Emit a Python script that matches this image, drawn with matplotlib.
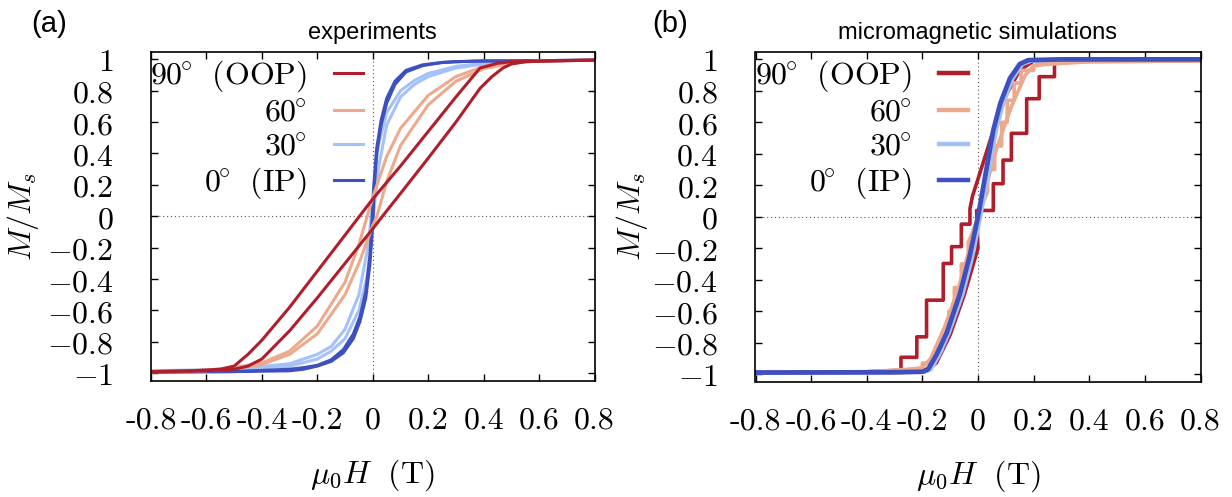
import numpy as np
import matplotlib
matplotlib.use("Agg")
from matplotlib import pyplot as plt
from matplotlib.lines import Line2D

plt.rcParams['mathtext.fontset'] = 'cm'
plt.rcParams['axes.unicode_minus'] = False

# colours for the four field angles
c90 = '#b01e2c'
c60 = '#eda98b'
c30 = '#a4c1f9'
c0 = '#3e50c0'

# ---------------- (a) experiments: descending / ascending branches ----------------
H90a_dn = [0.8, 0.6, 0.5, 0.45, 0.42, 0.387, 0.3, 0.2, 0.1, 0.0, -0.048, -0.1, -0.2, -0.3, -0.4, -0.45, -0.5, -0.55, -0.65, -0.8]
M90a_dn = [0.995, 0.99, 0.985, 0.975, 0.96, 0.945, 0.76, 0.54, 0.32, 0.11, 0.0, -0.12, -0.35, -0.58, -0.79, -0.88, -0.955, -0.975, -0.985, -0.99]
H90a_up = [-0.8, -0.6, -0.5, -0.45, -0.4, -0.3, -0.2, -0.1, 0.0, 0.035, 0.1, 0.2, 0.3, 0.387, 0.43, 0.47, 0.5, 0.55, 0.65, 0.8]
M90a_up = [-0.99, -0.985, -0.975, -0.955, -0.91, -0.73, -0.52, -0.30, -0.08, 0.0, 0.145, 0.37, 0.60, 0.815, 0.89, 0.945, 0.97, 0.985, 0.99, 0.995]

H60a_dn = [0.8, 0.6, 0.5, 0.4, 0.3, 0.2, 0.1, 0.05, 0.0, -0.02, -0.05, -0.1, -0.2, -0.3, -0.4, -0.5, -0.6, -0.8]
M60a_dn = [0.995, 0.99, 0.98, 0.955, 0.89, 0.77, 0.56, 0.38, 0.12, 0.0, -0.18, -0.42, -0.70, -0.86, -0.935, -0.965, -0.98, -0.99]
H60a_up = [-0.8, -0.6, -0.5, -0.4, -0.3, -0.2, -0.1, -0.05, 0.0, 0.015, 0.05, 0.1, 0.2, 0.3, 0.4, 0.5, 0.6, 0.8]
M60a_up = [-0.99, -0.985, -0.97, -0.945, -0.88, -0.75, -0.5, -0.3, -0.06, 0.0, 0.22, 0.45, 0.71, 0.86, 0.94, 0.975, 0.99, 0.995]

H30a_dn = [0.8, 0.5, 0.4, 0.3, 0.2, 0.15, 0.1, 0.05, 0.02, 0.005, -0.005, -0.02, -0.05, -0.1, -0.15, -0.2, -0.3, -0.5, -0.8]
M30a_dn = [0.995, 0.985, 0.975, 0.955, 0.91, 0.865, 0.80, 0.66, 0.45, 0.22, 0.0, -0.22, -0.5, -0.72, -0.83, -0.88, -0.94, -0.975, -0.985]
H30a_up = [-0.8, -0.5, -0.3, -0.2, -0.15, -0.1, -0.05, -0.02, -0.005, 0.005, 0.02, 0.05, 0.1, 0.15, 0.2, 0.3, 0.4, 0.5, 0.8]
M30a_up = [-0.99, -0.98, -0.955, -0.91, -0.86, -0.78, -0.6, -0.38, -0.15, 0.05, 0.3, 0.58, 0.76, 0.84, 0.89, 0.945, 0.97, 0.985, 0.995]

H0a_dn = [0.8, 0.5, 0.4, 0.3, 0.25, 0.18, 0.12, 0.08, 0.05, 0.03, 0.014, 0.005, -0.002, -0.01, -0.025, -0.046, -0.07, -0.106, -0.15, -0.2, -0.25, -0.3, -0.5, -0.8]
M0a_dn = [0.995, 0.99, 0.99, 0.985, 0.98, 0.965, 0.93, 0.86, 0.75, 0.61, 0.43, 0.22, 0.0, -0.25, -0.48, -0.64, -0.75, -0.85, -0.915, -0.95, -0.965, -0.975, -0.99, -0.99]
H0a_up = [-0.8, -0.5, -0.3, -0.25, -0.2, -0.15, -0.106, -0.07, -0.046, -0.025, -0.01, 0.0, 0.006, 0.014, 0.03, 0.05, 0.08, 0.12, 0.18, 0.25, 0.3, 0.4, 0.5, 0.8]
M0a_up = [-0.995, -0.99, -0.985, -0.975, -0.955, -0.925, -0.87, -0.78, -0.67, -0.52, -0.3, -0.05, 0.2, 0.4, 0.58, 0.72, 0.84, 0.92, 0.96, 0.98, 0.985, 0.99, 0.99, 0.995]

# ---------------- (b) micromagnetic simulations ----------------
H90b_dn = [0.8, 0.3, 0.2, 0.15, 0.1, 0.05, 0.0, -0.02, -0.029, -0.029, -0.06, -0.06, -0.095, -0.095, -0.125, -0.125, -0.185, -0.185, -0.22, -0.22, -0.277, -0.277, -0.4, -0.8]
M90b_dn = [1.0, 1.0, 0.99, 0.93, 0.77, 0.52, 0.24, 0.13, 0.05, -0.047, -0.047, -0.19, -0.19, -0.297, -0.297, -0.53, -0.53, -0.763, -0.763, -0.893, -0.893, -0.975, -0.985, -0.99]
H90b_up = [-0.8, -0.3, -0.2, -0.15, -0.1, -0.05, 0.0, -0.005, 0.055, 0.055, 0.09, 0.09, 0.12, 0.12, 0.175, 0.175, 0.22, 0.22, 0.275, 0.275, 0.4, 0.8]
M90b_up = [-0.99, -0.99, -0.985, -0.93, -0.75, -0.5, -0.2, 0.04, 0.04, 0.21, 0.21, 0.36, 0.36, 0.53, 0.53, 0.75, 0.75, 0.89, 0.89, 0.975, 0.99, 1.0]

H60b_up = [-0.8, -0.35, -0.25, -0.2, -0.17, -0.12, -0.07, -0.03, 0.0, 0.02, 0.035, 0.035, 0.06, 0.06, 0.085, 0.085, 0.105, 0.105, 0.13, 0.13, 0.155, 0.155, 0.2, 0.2, 0.26, 0.4, 0.8]
M60b_up = [-0.99, -0.985, -0.98, -0.96, -0.9, -0.7, -0.45, -0.2, 0.0, 0.1, 0.16, 0.3, 0.3, 0.45, 0.45, 0.6, 0.6, 0.74, 0.74, 0.85, 0.85, 0.93, 0.93, 0.96, 0.97, 0.985, 0.99]
H60b_dn = [0.8, 0.35, 0.25, 0.2, 0.17, 0.12, 0.07, 0.03, 0.0, -0.02, -0.035, -0.035, -0.06, -0.06, -0.085, -0.085, -0.105, -0.105, -0.13, -0.13, -0.155, -0.155, -0.2, -0.2, -0.26, -0.4, -0.8]
M60b_dn = [0.99, 0.985, 0.98, 0.96, 0.9, 0.7, 0.45, 0.2, 0.0, -0.1, -0.16, -0.3, -0.3, -0.45, -0.45, -0.6, -0.6, -0.74, -0.74, -0.85, -0.85, -0.93, -0.93, -0.96, -0.97, -0.985, -0.99]

H30b = [-0.8, -0.3, -0.19, -0.17, -0.14, -0.105, -0.055, -0.02, 0.008, 0.04, 0.065, 0.09, 0.125, 0.16, 0.19, 0.3, 0.8]
M30b = [-0.99, -0.988, -0.985, -0.97, -0.88, -0.74, -0.49, -0.25, 0.0, 0.3, 0.55, 0.72, 0.88, 0.97, 0.99, 1.0, 1.0]

H0b = [-0.8, -0.3, -0.2, -0.18, -0.15, -0.113, -0.065, -0.03, 0.0, 0.03, 0.055, 0.08, 0.115, 0.15, 0.18, 0.3, 0.8]
M0b = [-0.99, -0.988, -0.985, -0.97, -0.88, -0.74, -0.49, -0.25, 0.0, 0.3, 0.55, 0.72, 0.88, 0.97, 0.995, 1.0, 1.0]

labels = [r'$90^{\!\!\circ}\ \,\mathrm{(OOP)}$', r'$60^{\!\!\circ}$', r'$30^{\!\!\circ}$', r'$0^{\!\!\circ}\ \,\mathrm{(IP)}$']
xticks = [-0.8, -0.6, -0.4, -0.2, 0, 0.2, 0.4, 0.6, 0.8]
xticklabels = ['-0.8', '-0.6', '-0.4', '-0.2', '0', '0.2', '0.4', '0.6', '0.8']
yticks = [-1, -0.8, -0.6, -0.4, -0.2, 0, 0.2, 0.4, 0.6, 0.8, 1]
yticklabels = [r'$-1$', r'$-0.8$', r'$-0.6$', r'$-0.4$', r'$-0.2$', r'$0$', r'$0.2$', r'$0.4$', r'$0.6$', r'$0.8$', r'$1$']

fig = plt.figure(figsize=(12.32, 4.97), dpi=100)
ax1 = fig.add_axes([151/1232, 1-381/497, 443.5/1232, 329.5/497])
ax2 = fig.add_axes([755.5/1232, 1-382/497, 445/1232, 330.5/497])

fs = 23


def style(ax, ylab_x):
    ax.set_xlim(-0.8, 0.8)
    ax.set_ylim(-1.05, 1.05)
    ax.axhline(0, color='#555555', lw=0.8, ls=(0, (1, 2.5)), zorder=0)
    ax.axvline(0, color='#555555', lw=0.8, ls=(0, (1, 2.5)), zorder=0)
    ax.set_xticks(xticks)
    ax.set_xticklabels(xticklabels, fontfamily='cmr10', fontsize=fs)
    ax.set_yticks(yticks)
    ax.set_yticklabels(yticklabels, fontsize=fs)
    ax.tick_params(direction='in', top=True, right=True, length=5, width=1)
    ax.tick_params(axis='x', pad=19)
    ax.tick_params(axis='y', pad=27)
    for s in ax.spines.values():
        s.set_linewidth(1.2)
    ax.set_xlabel(r'$\mu_0 H\ \ \mathrm{(T)}$', fontsize=fs)
    ax.xaxis.set_label_coords(0.5, -0.285)
    ax.xaxis.label.set_verticalalignment('center')
    ax.set_ylabel(r'$M/M_s$', fontsize=fs)
    ax.yaxis.set_label_coords(ylab_x, 0.5)
    ax.yaxis.label.set_verticalalignment('center')


# panel (a)
lw = 2.2
ax1.plot(H30a_dn, M30a_dn, color=c30, lw=lw)
ax1.plot(H30a_up, M30a_up, color=c30, lw=lw)
ax1.plot(H0a_dn, M0a_dn, color=c0, lw=lw)
ax1.plot(H0a_up, M0a_up, color=c0, lw=lw)
ax1.plot(H60a_dn, M60a_dn, color=c60, lw=lw)
ax1.plot(H60a_up, M60a_up, color=c60, lw=lw)
ax1.plot(H90a_dn, M90a_dn, color=c90, lw=lw)
ax1.plot(H90a_up, M90a_up, color=c90, lw=lw)
style(ax1, -0.289)
ax1.set_title('experiments', fontfamily='Liberation Sans', fontsize=17, pad=9)
h1 = [Line2D([], [], color=c, lw=lw) for c in [c90, c60, c30, c0]]
ax1.legend(h1, labels, loc='upper right', bbox_to_anchor=(0.477, 0.978), markerfirst=False,
           frameon=False, fontsize=fs, handlelength=0.9, handletextpad=0.85,
           labelspacing=0.1, borderpad=0, borderaxespad=0)

# panel (b)
ax2.plot(H90b_dn, M90b_dn, color=c90, lw=2.6)
ax2.plot(H90b_up, M90b_up, color=c90, lw=2.6)
ax2.plot(H60b_dn, M60b_dn, color=c60, lw=2.6)
ax2.plot(H60b_up, M60b_up, color=c60, lw=2.6)
ax2.plot(H30b, M30b, color=c30, lw=3.0)
ax2.plot(H0b, M0b, color=c0, lw=3.4)
style(ax2, -0.277)
ax2.set_title('micromagnetic simulations', fontfamily='Liberation Sans', fontsize=17, pad=9)
h2 = [Line2D([], [], color=c, lw=3.2) for c in [c90, c60, c30, c0]]
ax2.legend(h2, labels, loc='upper right', bbox_to_anchor=(0.477, 0.978), markerfirst=False,
           frameon=False, fontsize=fs, handlelength=0.9, handletextpad=0.85,
           labelspacing=0.1, borderpad=0, borderaxespad=0)

fig.text(49/1232, 1-24/497, '(a)', fontfamily='Liberation Sans', fontsize=21, ha='center', va='center')
fig.text(670/1232, 1-24/497, '(b)', fontfamily='Liberation Sans', fontsize=21, ha='center', va='center')

fig.savefig('out.png', dpi=100)
